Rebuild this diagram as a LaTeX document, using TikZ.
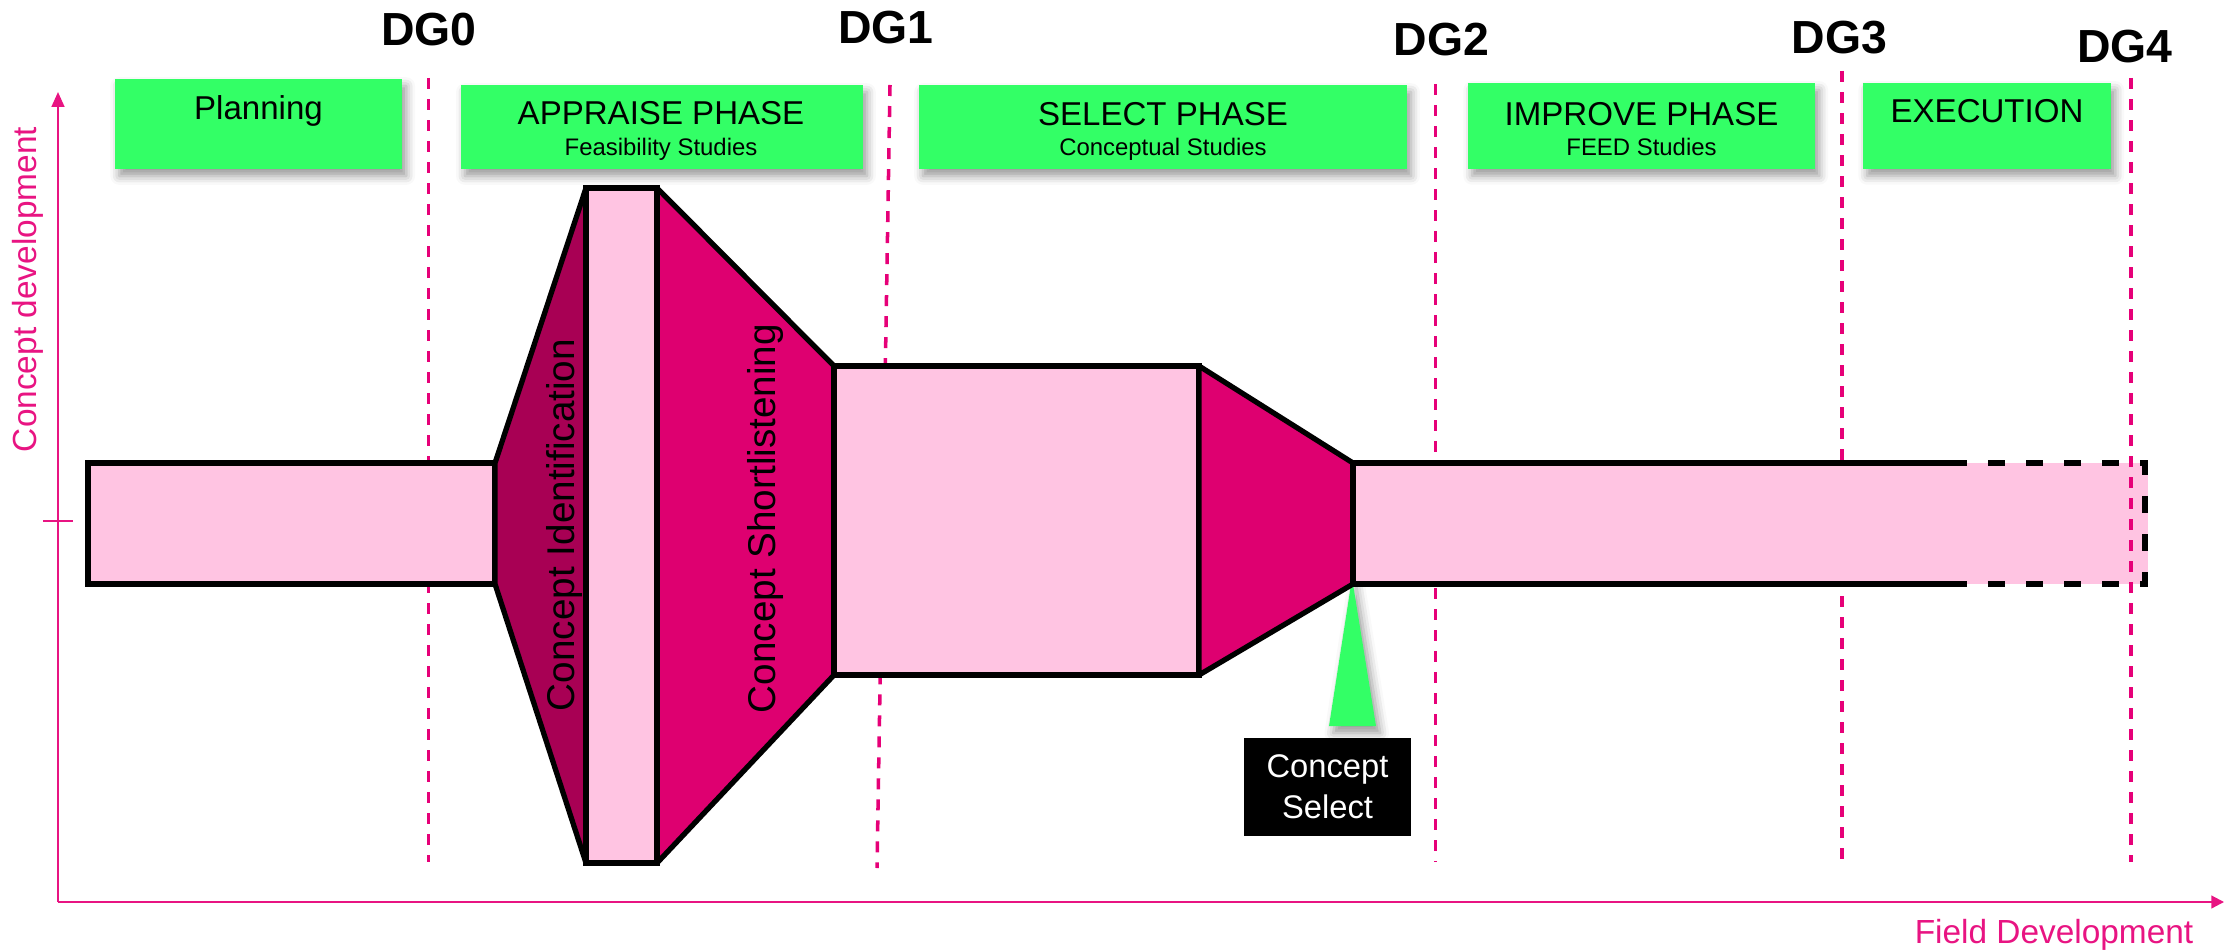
\documentclass[tikz,border=0pt]{standalone}
\usepackage{fontspec}
\setmainfont{Liberation Sans}
\usetikzlibrary{arrows.meta,shadows.blur}
\definecolor{phasegreen}{RGB}{51,255,102}
\definecolor{fillpink}{RGB}{255,196,226}
\definecolor{darkmag}{RGB}{168,0,84}
\definecolor{mag}{RGB}{222,0,112}
\definecolor{gateline}{RGB}{230,0,120}
\definecolor{axiscol}{RGB}{232,20,130}
\begin{document}
\begin{tikzpicture}[x=0.01cm,y=-0.01cm,
  gshadow/.style={blur shadow={shadow xshift=1.2pt,shadow yshift=-2pt,shadow blur radius=2.5pt}},
  phasebox/.style={fill=phasegreen,draw=none,inner sep=0pt,gshadow},
  phasetitle/.style={inner sep=0pt,anchor=base,font=\fontsize{9.4}{11}\selectfont},
  phasesub/.style={inner sep=0pt,anchor=base,font=\fontsize{6.8}{8}\selectfont},
  gatelabel/.style={inner sep=0pt,font=\bfseries\fontsize{13.2}{15}\selectfont},
  gateline/.style={draw=gateline,line width=1pt,dash pattern=on 0.11cm off 0.10cm},
  axisline/.style={draw=axiscol,line width=0.6pt},
  axislabel/.style={inner sep=0pt,text=axiscol,font=\fontsize{9.5}{11}\selectfont},
  border/.style={draw=black,line width=1.5pt},
  rectpart/.style={border,fill=fillpink,line join=miter},
  trappart/.style={border,line join=bevel},
  funnellabel/.style={inner sep=0pt,rotate=90,font=\fontsize{11}{13}\selectfont},
  ]
\useasboundingbox (0,0) rectangle (2225,952);

% gate lines (behind the funnel)
\coordinate (dg0t) at (428.5,78);  \coordinate (dg0b) at (428.5,862);
\coordinate (dg1t) at (890,85);    \coordinate (dg1b) at (877,868);
\coordinate (dg2t) at (1435.5,84); \coordinate (dg2b) at (1435.5,862);
\coordinate (dg3t) at (1842,71);   \coordinate (dg3b) at (1842,862);
\coordinate (dg4t) at (2131,78);   \coordinate (dg4b) at (2131,862);
\draw[gateline] (dg0t) -- (dg0b);
\draw[gateline] (dg1t) -- (dg1b);
\draw[gateline] (dg2t) -- (dg2b);
\draw[gateline] (dg3t) -- (dg3b);

% axes
\coordinate (orig) at (58,902);
\coordinate (ytop) at (58,92);
\coordinate (xend) at (2224,902);
\coordinate (tickl) at (43,521);
\coordinate (tickr) at (73,521);
\draw[axisline,-{Triangle[length=4.2pt,width=3.6pt]}] (orig) -- (ytop);
\draw[axisline,-{Triangle[length=3.6pt,width=3.6pt]}] (orig) -- (xend);
\draw[axisline] (tickl) -- (tickr);
\node[axislabel,rotate=90] (ylab) at (27.5,289.5) {Concept development};
\node[axislabel,anchor=base] (xlab) at (2054,943) {Field Development};

% green pointer triangle
\path[fill=phasegreen,gshadow] (1352,578) -- (1376,726) -- (1329,726) -- cycle;

% funnel
\path[rectpart] (88,463) rectangle (495,584);
\path[trappart,fill=darkmag] (495,463) -- (586,188) -- (586,863) -- (495,584) -- cycle;
\path[trappart,fill=mag] (657,188) -- (834,366) -- (834,675) -- (657,863) -- cycle;
\path[rectpart] (586,188) rectangle (657,863);
\path[rectpart] (834,366) rectangle (1199,675);
\path[trappart,fill=mag] (1199,366) -- (1353,463) -- (1353,584) -- (1199,675) -- cycle;
\path[fill=fillpink] (1353,463) rectangle (2148,584);
\draw[border,line join=miter] (1967,463) -- (1353,463) -- (1353,584) -- (1967,584);
\draw[border,line join=miter,dash pattern=on 0.17cm off 0.21cm,dash phase=0.17cm]
  (1967,463) -- (2145,463) -- (2145,584) -- (1967,584);

\draw[gateline] (dg4t) -- (dg4b);

% funnel labels
\node[funnellabel] (cident) at (564,525) {Concept Identification};
\node[funnellabel] (cshort) at (765,518.5) {Concept Shortlistening};

% concept select box
\node[fill=black,text=white,minimum width=1.67cm,minimum height=0.98cm,inner sep=0pt,
  align=center,font=\fontsize{9.3}{11.6}\selectfont] (csel) at (1327.5,787) {Concept\\Select};

% phase boxes
\node[phasebox,minimum width=2.87cm,minimum height=0.90cm] (planbox) at (258.5,124) {};
\node[phasebox,minimum width=4.02cm,minimum height=0.84cm] (appbox) at (661.7,127) {};
\node[phasebox,minimum width=4.88cm,minimum height=0.84cm] (selbox) at (1162.8,127) {};
\node[phasebox,minimum width=3.47cm,minimum height=0.86cm] (impbox) at (1641.5,125.9) {};
\node[phasebox,minimum width=2.48cm,minimum height=0.86cm] (exebox) at (1987,125.9) {};

\node[phasetitle] (plant) at (258.5,120) {Planning};
\node[phasetitle] (appt) at (661,125) {APPRAISE PHASE};
\node[phasesub] (apps) at (661,156) {Feasibility Studies};
\node[phasetitle] (selt) at (1163,126) {SELECT PHASE};
\node[phasesub] (sels) at (1163,156) {Conceptual Studies};
\node[phasetitle] (impt) at (1641.5,126) {IMPROVE PHASE};
\node[phasesub] (imps) at (1641.5,156) {FEED Studies};
\node[phasetitle] (exet) at (1987,123) {EXECUTION};

% gate labels
\node[gatelabel] (dg0) at (429,30) {DG0};
\node[gatelabel] (dg1) at (886,27.5) {DG1};
\node[gatelabel] (dg2) at (1441.5,39.5) {DG2};
\node[gatelabel] (dg3) at (1839.5,37.5) {DG3};
\node[gatelabel] (dg4) at (2125,46.5) {DG4};
\end{tikzpicture}
\end{document}
